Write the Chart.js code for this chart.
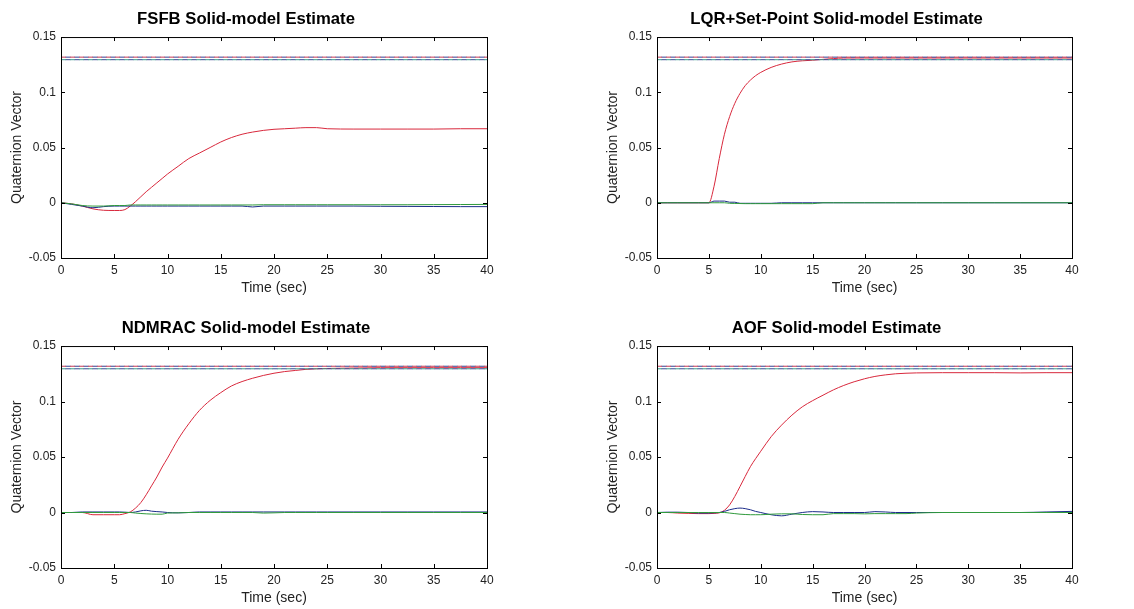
<!DOCTYPE html>
<html>
<head>
<meta charset="utf-8">
<script src="https://cdn.jsdelivr.net/npm/chart.js@4/dist/chart.umd.min.js"></script>
<style>
  body { margin: 0; background: #fff; width: 1134px; height: 609px; overflow: hidden; }
  canvas { position: absolute; }
  #c1 { left: 0px; top: 0px; }
  #c2 { left: 596px; top: 0px; }
  #c3 { left: 0px; top: 309px; }
  #c4 { left: 596px; top: 309px; }
</style>
</head>
<body>
<canvas id="c1" width="500" height="300"></canvas>
<canvas id="c2" width="489" height="300"></canvas>
<canvas id="c3" width="500" height="301"></canvas>
<canvas id="c4" width="489" height="301"></canvas>
<script>
// sample times (sec) shared by every trace
const TIME = [0, 1, 2, 3, 4, 5, 5.5, 6, 6.5, 7, 7.5, 8, 8.5, 9, 9.5, 10, 11, 12, 13, 14, 15, 16, 17, 18, 19, 20, 21, 22, 23, 24, 25, 27.5, 30, 32.5, 35, 37.5, 40]

const FSFB_RED = [0, -0.001, -0.003, -0.0055, -0.0068, -0.007, -0.007, -0.0062, -0.003, 0.001, 0.0055, 0.010, 0.014, 0.018, 0.022, 0.026, 0.033, 0.040, 0.045, 0.050, 0.055, 0.059, 0.062, 0.064, 0.0655, 0.0665, 0.067, 0.0675, 0.068, 0.068, 0.067, 0.0667, 0.0667, 0.0667, 0.0667, 0.067, 0.067]
const FSFB_GREEN = [0, -0.001, -0.0025, -0.003, -0.003, -0.0025, -0.0025, -0.0025, -0.002, -0.002, -0.002, -0.002, -0.002, -0.002, -0.002, -0.002, -0.002, -0.002, -0.002, -0.002, -0.002, -0.002, -0.002, -0.002, -0.0018, -0.0018, -0.0018, -0.0018, -0.0018, -0.0018, -0.0018, -0.0018, -0.0018, -0.0018, -0.0017, -0.0016, -0.0015]
const FSFB_BLUE = [0, -0.0015, -0.003, -0.0045, -0.0035, -0.003, -0.003, -0.003, -0.003, -0.003, -0.003, -0.003, -0.003, -0.003, -0.003, -0.003, -0.003, -0.003, -0.003, -0.003, -0.003, -0.003, -0.003, -0.0038, -0.003, -0.003, -0.003, -0.003, -0.003, -0.003, -0.003, -0.003, -0.0032, -0.0033, -0.0034, -0.0035, -0.0035]

const LQR_RED = [0, 0, 0, 0, 0, 0, 0.015, 0.04, 0.062, 0.078, 0.09, 0.099, 0.106, 0.111, 0.115, 0.118, 0.1225, 0.1255, 0.1275, 0.1285, 0.129, 0.1298, 0.1305, 0.131, 0.131, 0.131, 0.131, 0.131, 0.131, 0.131, 0.131, 0.131, 0.131, 0.131, 0.131, 0.131, 0.131]
const LQR_GREEN = [0, 0, 0, 0, 0, 0, 0, 0, 0, -0.0005, -0.0006, -0.0007, -0.0008, -0.0008, -0.0008, -0.0008, -0.0008, -0.0008, -0.0008, -0.0008, -0.0008, 0, 0, 0, 0, 0, 0, 0, 0, 0, 0, 0, 0, 0, 0, 0, 0]
const LQR_BLUE = [0, 0, 0, 0, 0, 0, 0.0015, 0.0015, 0.0015, 0.0005, 0.0005, -0.0005, -0.0005, -0.0005, -0.0005, -0.0005, -0.0005, 0, 0, 0, 0, 0, 0, 0, 0, 0, 0, 0, 0, 0, 0, 0, 0, 0, 0, 0, 0]

const NDMRAC_RED = [0, 0, 0, -0.002, -0.002, -0.002, -0.002, -0.001, 0.0005, 0.004, 0.009, 0.016, 0.024, 0.032, 0.041, 0.049, 0.066, 0.08, 0.092, 0.101, 0.108, 0.114, 0.118, 0.121, 0.1235, 0.1255, 0.127, 0.128, 0.129, 0.1295, 0.1298, 0.1302, 0.1305, 0.1305, 0.1305, 0.1305, 0.1305]
const NDMRAC_GREEN = [0, 0, 0, 0, 0, 0, 0, 0, 0, -0.0005, -0.0009, -0.0012, -0.0014, -0.0015, -0.0015, -0.0005, -0.0003, 0, 0, 0, 0, 0, 0, 0, -0.0005, -0.0003, 0, 0, 0, 0, 0, 0, 0, 0, 0, 0, 0]
const NDMRAC_BLUE = [0, 0, 0.0005, 0.0005, 0.0005, 0.0005, 0.0005, 0.0003, 0, 0.0005, 0.0015, 0.002, 0.0012, 0.0008, 0.0005, 0, -0.0003, 0, 0.0005, 0.0005, 0.0005, 0.0005, 0.0005, 0.0005, 0.0005, 0.0005, 0.0005, 0.0005, 0.0005, 0.0005, 0.0005, 0.0005, 0.0005, 0.0005, 0.0005, 0.0005, 0.0005]

const AOF_RED = [0, 0, -0.0005, -0.0008, -0.001, -0.001, -0.0008, -0.0003, 0.002, 0.0069, 0.0145, 0.0234, 0.0325, 0.0413, 0.0485, 0.0552, 0.0683, 0.0787, 0.0877, 0.0952, 0.1008, 0.1057, 0.1105, 0.1145, 0.1178, 0.1205, 0.1226, 0.124, 0.125, 0.1255, 0.1258, 0.126, 0.126, 0.126, 0.1258, 0.126, 0.126]
const AOF_GREEN = [0, 0, 0, 0, 0, 0, 0, 0, 0, -0.0005, -0.001, -0.0015, -0.0018, -0.002, -0.002, -0.002, -0.0015, -0.0012, -0.0012, -0.0018, -0.002, -0.002, -0.001, -0.001, -0.001, -0.0012, -0.001, -0.001, -0.001, -0.001, -0.0005, 0, 0, 0, 0, 0, 0]
const AOF_BLUE = [0, 0.0003, 0.0003, 0, -0.0005, -0.0005, -0.0003, 0, 0.001, 0.0025, 0.0035, 0.004, 0.0035, 0.0025, 0.001, 0, -0.002, -0.003, -0.0015, 0, 0.0008, 0.0005, 0, 0, 0, 0, 0.0008, 0.0005, 0, 0, 0, 0, 0, 0, 0, 0.0005, 0.001]

// commanded set-point levels (dashed)
const REF_HIGH = 0.1318
const REF_LOW = 0.1295

const X_TICKS = [0, 5, 10, 15, 20, 25, 30, 35, 40]
const Y_TICKS = [-0.05, 0, 0.05, 0.1, 0.15]

const RED = '#d8283c'
const GREEN = '#2f9a3c'
const BLUE = '#1c2c8a'

function pts(values) {
  return TIME.map((t, i) => ({ x: t, y: values[i] }))
}

function refLine(level, color, offset) {
  return {
    data: [{ x: 0, y: level }, { x: 40, y: level }],
    borderColor: color,
    borderWidth: 1,
    borderDash: [5, 4],
    borderDashOffset: offset,
    pointRadius: 0,
  }
}

// matlab style box with inward tick marks
const boxPlugin = {
  id: 'box',
  afterDatasetsDraw(chart) {
    const { ctx, chartArea: a, scales } = chart
    ctx.save()
    ctx.strokeStyle = '#000'
    ctx.lineWidth = 1
    ctx.strokeRect(a.left + 0.5, a.top + 0.5, a.right - a.left, a.bottom - a.top)
    ctx.beginPath()
    X_TICKS.forEach((v) => {
      const px = Math.round(scales.x.getPixelForValue(v)) + 0.5
      ctx.moveTo(px, a.bottom); ctx.lineTo(px, a.bottom - 4)
      ctx.moveTo(px, a.top); ctx.lineTo(px, a.top + 4)
    })
    Y_TICKS.forEach((v) => {
      const py = Math.round(scales.y.getPixelForValue(v)) + 0.5
      ctx.moveTo(a.left, py); ctx.lineTo(a.left + 4, py)
      ctx.moveTo(a.right, py); ctx.lineTo(a.right - 4, py)
    })
    ctx.stroke()
    ctx.restore()
  },
}

function makeChart(id, title, red, green, blue) {
  const line = (values, color) => ({
    data: pts(values),
    borderColor: color,
    borderWidth: 1,
    pointRadius: 0,
    cubicInterpolationMode: 'monotone',
  })
  return new Chart(document.getElementById(id), {
    type: 'line',
    data: {
      datasets: [
        refLine(REF_HIGH, '#c43a55', 0),
        refLine(REF_HIGH, '#33408f', 4.5),
        refLine(REF_LOW, '#3a9a8c', 0),
        refLine(REF_LOW, '#3a4496', 4.5),
        line(green, GREEN),
        line(blue, BLUE),
        line(red, RED),
      ],
    },
    options: {
      responsive: false,
      animation: false,
      layout: { padding: { left: 5, right: 13, top: 0, bottom: 2 } },
      plugins: {
        legend: { display: false },
        tooltip: { enabled: false },
        title: {
          display: true,
          text: title,
          color: '#000',
          font: { family: 'Liberation Sans', size: 16.7, weight: 'bold' },
          padding: { top: 9, bottom: 8 },
        },
      },
      scales: {
        x: {
          type: 'linear',
          min: 0,
          max: 40,
          afterBuildTicks: (s) => { s.ticks = X_TICKS.map((v) => ({ value: v })) },
          afterFit: (s) => { s.height = 40 },
          grid: { display: false, drawTicks: false },
          border: { display: false },
          ticks: { color: '#222', padding: 5, maxRotation: 0, font: { family: 'Liberation Sans', size: 12 } },
          title: {
            display: true,
            text: 'Time (sec)',
            color: '#222',
            padding: { top: 0, bottom: 1 },
            font: { family: 'Liberation Sans', size: 14 },
          },
        },
        y: {
          min: -0.05,
          max: 0.15,
          afterBuildTicks: (s) => { s.ticks = Y_TICKS.map((v) => ({ value: v })) },
          afterFit: (s) => { s.width = 56 },
          grid: { display: false, drawTicks: false },
          border: { display: false },
          ticks: {
            color: '#222',
            padding: 5,
            font: { family: 'Liberation Sans', size: 12 },
            callback: (v) => String(v),
          },
          title: {
            display: true,
            text: 'Quaternion Vector',
            color: '#222',
            padding: { top: 4, bottom: 0 },
            font: { family: 'Liberation Sans', size: 14 },
          },
        },
      },
    },
    plugins: [boxPlugin],
  })
}

makeChart('c1', 'FSFB Solid-model Estimate', FSFB_RED, FSFB_GREEN, FSFB_BLUE)
makeChart('c2', 'LQR+Set-Point Solid-model Estimate', LQR_RED, LQR_GREEN, LQR_BLUE)
makeChart('c3', 'NDMRAC Solid-model Estimate', NDMRAC_RED, NDMRAC_GREEN, NDMRAC_BLUE)
makeChart('c4', 'AOF Solid-model Estimate', AOF_RED, AOF_GREEN, AOF_BLUE)
</script>
</body>
</html>
